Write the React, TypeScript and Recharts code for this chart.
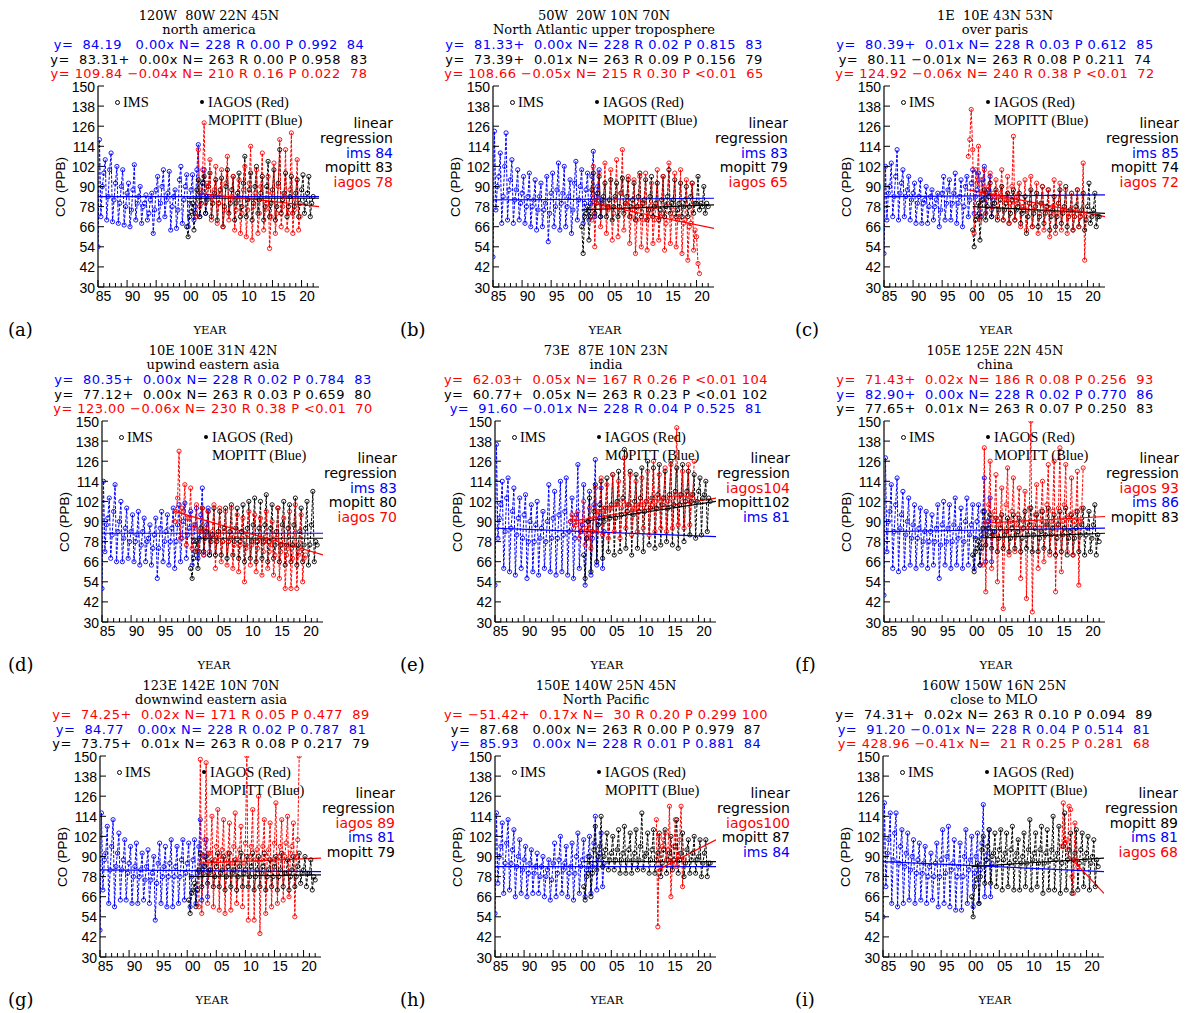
import React from "react";
import { ComposedChart, Line, XAxis, YAxis } from "recharts";

// monthly CO (ppb) sampled quarterly; IMS from 1985.0, MOPITT from 2000.25
const START_IMS = 1985;
const START_MOP = 2000.25;
const FIT_END = 2023;

const coTicks = [30, 42, 54, 66, 78, 90, 102, 114, 126, 138, 150];
const yearTicks = [
  1985, 1986, 1987, 1988, 1989, 1990, 1991, 1992, 1993, 1994, 1995, 1996, 1997,
  1998, 1999, 2000, 2001, 2002, 2003, 2004, 2005, 2006, 2007, 2008, 2009, 2010,
  2011, 2012, 2013, 2014, 2015, 2016, 2017, 2018, 2019, 2020, 2021, 2022,
];
const labelYears = [1985, 1990, 1995, 2000, 2005, 2010, 2015, 2020];
const labelText = ["85", "90", "95", "00", "05", "10", "15", "20"];

// ---- north america
const naIms = [
  54,118,72,90, 98,106,70,84, 100,110,69,82, 92,102,68,80, 90,100,67,78,
  86,92,66,76, 88,103,70,80, 84,90,68,78, 80,85,70,74, 82,86,62,76,
  88,96,70,80, 90,100,72,82, 86,99,64,78, 84,88,65,76, 94,102,68,82,
  90,97,66,80, 88,97,70,78, 100,115,72,86, 92,100,74,84,
];
const naMop = [
  66,60,72,
  75,80,64,74, 88,94,72,80, 92,96,74,82, 90,98,72,80, 86,94,70,80,
  88,95,66,78, 90,100,74,80, 88,96,70,80, 86,98,72,78, 92,108,72,82,
  88,98,70,80, 90,102,74,82, 86,96,70,78, 90,105,72,80, 88,100,70,78,
  92,112,74,82, 86,98,72,78, 84,96,74,78, 86,94,72,80, 88,97,74,80,
  86,96,72,80,
  84,
];
const naIag = [
  72,112,78,88, 100,128,80,92, 90,106,70,84, 88,102,68,80, 86,100,66,76,
  92,108,70,82, 84,96,64,76, 82,94,62,74, 88,102,60,76, 92,114,58,78,
  86,100,62,74, 90,110,64,76, 80,96,53,72, 86,104,62,74, 90,118,66,78,
  84,112,64,74, 88,122,62,76, 82,106,64,72,
];

// ---- north atlantic
const natIms = [
  48,123,76,90, 96,110,68,84, 102,122,70,88, 94,106,68,82, 88,100,70,80,
  86,96,68,78, 84,98,66,78, 82,94,64,76, 84,92,66,76, 80,96,57,74,
  86,98,66,78, 88,104,64,80, 86,102,66,78, 84,94,62,76, 92,105,70,82,
  90,100,68,80, 88,98,70,80, 96,111,72,84, 90,100,72,82,
];
const natMop = [
  66,50,72,
  74,78,58,72, 88,98,74,80, 86,96,72,80, 84,92,72,78, 82,94,70,78,
  84,92,72,78, 86,95,74,80, 84,94,72,78, 82,92,70,78, 84,98,72,80,
  82,94,70,76, 84,96,72,78, 80,92,70,76, 82,96,72,78, 84,100,74,80,
  82,94,72,76, 80,92,72,78, 82,90,72,78, 84,92,74,80, 80,96,76,80,
  78,90,74,80,
  78,
];
const natIag = [
  70,102,54,80, 82,98,66,78, 80,104,62,76, 78,100,58,74, 82,106,60,76,
  86,112,64,78, 80,96,56,72, 76,94,50,70, 78,96,54,70, 80,98,52,72,
  76,92,56,70, 78,100,58,72, 74,96,52,68, 80,104,56,72, 76,98,54,70,
  72,100,50,68, 70,94,46,66, 68,92,52,64,
  60,44,38,
];

// ---- over paris
const parIms = [
  50,102,70,86, 90,104,72,84, 96,112,70,86, 92,100,72,84, 88,96,70,82,
  86,92,68,80, 84,94,68,80, 82,90,68,78, 84,88,70,78, 82,86,66,76,
  86,96,70,80, 88,94,70,80, 86,98,68,80, 84,94,66,78, 90,96,72,82,
  92,100,74,84, 88,98,72,82, 94,102,74,86, 88,96,72,82,
];
const parMop = [
  64,54,70,
  72,80,58,72, 82,88,70,78, 84,92,72,78, 80,88,70,76, 82,90,70,76,
  80,86,68,74, 82,88,70,76, 78,86,68,74, 76,84,62,72, 80,88,66,74,
  78,86,66,72, 80,90,68,74, 78,88,64,72, 76,84,66,72, 80,88,68,74,
  78,90,66,72, 76,86,64,72, 78,88,66,72, 76,86,64,70, 78,92,68,72,
  76,86,66,72,
  72,
];
const parIag = [
  108,118,
  136,112,62,100, 92,114,70,94, 86,100,74,88, 90,98,76,86, 84,94,72,84,
  86,100,70,82, 82,96,68,80, 90,120,70,84, 80,92,66,78, 78,94,64,76,
  80,96,66,76, 78,92,62,74, 80,90,64,76, 76,88,60,74, 78,94,62,74,
  80,92,64,76, 76,88,62,72, 74,86,64,72, 76,88,66,72, 74,104,46,72,
];

// ---- upwind eastern asia
const upwIms = [
  50,114,72,88, 92,104,68,82, 96,112,66,84, 90,102,66,80, 86,98,68,78,
  84,94,66,78, 82,96,64,76, 84,92,66,78, 80,88,64,74, 82,92,56,74,
  86,96,66,78, 84,94,64,78, 86,98,62,78, 88,100,66,80, 90,101,68,82,
  86,96,64,78, 88,98,68,80, 94,110,70,84, 88,98,70,82,
];
const upwMop = [
  62,56,68,
  72,78,62,72, 86,98,72,80, 84,96,70,78, 82,98,70,78, 84,96,70,78,
  86,98,68,78, 84,100,70,78, 86,98,68,78, 84,100,66,76, 86,102,68,78,
  88,104,66,78, 86,102,68,78, 88,106,66,78, 86,100,68,76, 84,98,66,76,
  88,102,64,76, 86,100,66,76, 88,104,64,76, 84,98,66,76, 86,102,64,76,
  88,108,66,78,
  76,
];
const upwIag = [
  90,96,
  104,132,80,98, 96,112,76,92, 92,110,74,88, 86,100,72,84, 84,98,70,82,
  86,96,72,82, 84,100,62,80, 82,98,66,78, 84,96,64,78, 80,98,62,76,
  82,94,60,76, 80,92,54,74, 82,96,64,76, 78,94,60,74, 80,92,58,72,
  78,96,62,72, 76,90,58,70, 80,98,56,72, 76,92,50,70, 74,96,50,68,
  76,100,50,70, 72,94,54,68,
  70,
];

// ---- india
const indIms = [
  52,136,80,92, 100,114,62,84, 104,116,60,86, 96,110,58,82, 92,104,62,80,
  94,106,56,78, 90,100,60,78, 88,102,58,80, 86,96,62,78, 90,112,60,80,
  92,108,58,80, 94,114,60,82, 96,116,58,84, 90,104,56,80, 94,124,62,84,
  88,112,52,80, 90,108,58,80, 100,127,64,88, 92,110,62,84,
];
const indMop = [
  70,56,80,
  90,104,60,84, 96,112,66,88, 100,114,68,90, 98,116,72,92, 100,118,70,92,
  102,120,72,94, 104,133,74,96, 100,120,70,94, 102,118,74,96, 104,122,72,96,
  102,126,76,98, 104,122,74,98, 106,124,76,100, 104,120,78,98, 106,126,76,100,
  108,122,74,100, 106,124,78,102, 108,120,82,102, 106,118,80,102, 108,116,82,104,
  106,114,84,104,
  102,
];
const indIag = [
  90,94,86,92, 88,96,80,90, 84,102,76,86, 80,98,74,84, 92,110,84,96,
  96,116,82,98, 94,112,80,98, 98,118,84,100, 100,114,80,98, 102,128,86,100,
  100,118,82,98, 98,114,84,100, 100,116,86,100, 102,120,82,102, 100,126,84,102,
  104,118,86,104, 102,122,84,102, 104,124,86,104, 106,146,88,106, 104,120,86,104,
  106,124,88,106,
  104,126,
];

// ---- china
const chnIms = [
  46,128,72,90, 96,112,62,84, 100,116,60,86, 94,108,62,82, 90,104,64,80,
  88,100,62,80, 86,98,64,78, 84,96,62,78, 84,94,64,78, 86,100,56,76,
  88,102,64,78, 86,100,62,78, 88,104,64,80, 86,98,62,78, 90,104,64,82,
  88,100,62,80, 90,100,64,82, 96,116,66,86, 90,104,66,84,
];
const chnMop = [
  70,60,72,
  74,78,64,74, 86,96,76,82, 86,94,74,82, 84,92,72,80, 86,94,74,82,
  84,92,72,80, 86,94,74,82, 84,92,72,80, 86,96,74,82, 88,98,72,82,
  86,94,72,80, 84,96,74,82, 88,98,72,82, 86,94,70,80, 88,96,72,82,
  86,98,70,80, 84,94,70,80, 86,96,72,82, 88,98,70,82, 86,96,72,80,
  88,100,70,82,
  78,
];
const chnIag = [
  64,134,48,90, 100,126,62,92, 96,118,54,88, 92,110,38,84, 100,122,70,90,
  96,116,72,88, 94,110,56,86, 90,108,44,86, 98,150,36,88, 94,112,62,86,
  96,114,66,88, 100,124,70,90, 96,126,48,88, 98,134,60,90, 100,124,72,92,
  94,116,70,90, 96,120,52,90,
  98,122,
];

// ---- downwind eastern asia
const dwnIms = [
  46,116,70,88, 92,108,62,82, 96,112,60,84, 92,104,64,82, 88,100,64,80,
  86,96,62,78, 84,98,62,78, 82,92,64,76, 84,94,62,76, 80,90,52,74,
  86,98,62,78, 84,96,60,78, 86,100,60,78, 84,96,62,78, 88,100,64,80,
  86,98,60,78, 88,100,62,80, 96,112,64,84, 90,100,66,82,
];
const dwnMop = [
  64,56,68,
  70,74,60,70, 82,92,72,80, 84,90,74,80, 82,88,72,78, 84,92,72,80,
  82,90,70,78, 84,92,72,80, 82,88,70,78, 84,92,72,80, 82,90,72,78,
  84,92,70,78, 82,90,72,80, 84,92,70,78, 82,88,72,78, 84,90,70,78,
  82,92,72,80, 80,88,70,78, 82,90,72,78, 84,92,74,80, 82,90,72,80,
  80,88,70,78,
  76,
];
const dwnIag = [
  60,148,56,90, 100,146,62,92, 92,114,60,88, 96,118,58,90, 94,112,56,88,
  92,110,58,86, 96,116,62,88, 94,108,60,86, 98,150,52,90, 96,118,52,88,
  94,126,44,88, 96,112,56,90, 94,110,60,88, 98,122,62,90, 96,112,64,90,
  98,114,66,92, 96,110,54,90,
  100,150,
];

// ---- north pacific
const npaIms = [
  56,116,74,90, 96,110,68,86, 98,112,70,86, 94,106,66,84, 90,100,68,82,
  88,96,66,80, 86,94,68,80, 84,92,68,78, 84,90,66,78, 82,88,64,76,
  86,98,66,80, 88,102,68,82, 86,96,66,80, 84,98,64,80, 90,104,68,84,
  88,100,66,82, 90,102,68,84, 98,114,70,88, 92,104,72,86,
];
const npaMop = [
  72,64,78,
  80,90,66,80, 94,108,82,90, 96,114,84,90, 94,104,82,88, 92,102,82,88,
  94,106,80,88, 92,108,80,88, 94,104,80,88, 92,106,82,88, 96,116,82,90,
  92,104,80,88, 94,106,80,88, 92,104,78,86, 94,106,80,88, 92,102,82,88,
  96,112,80,88, 92,104,78,86, 94,100,80,88, 92,102,80,88, 90,100,78,86,
  92,100,78,86,
  86,
];
const npaIag = [
  112,
  48,102,82,96, 100,104,88,94, 120,66,86,96, 112,84,90,100,
  120,72,88,
];

// ---- close to MLO
const mloIms = [
  54,122,72,92, 100,116,62,88, 104,116,60,86, 96,106,62,84, 92,104,64,82,
  90,100,62,80, 88,98,64,80, 86,96,62,78, 84,92,64,78, 86,98,60,78,
  88,106,62,80, 90,108,60,82, 86,100,58,78, 84,98,58,78, 90,106,62,82,
  88,102,60,80, 90,104,62,82, 98,121,66,88, 92,106,66,86,
];
const mloMop = [
  66,54,72,
  76,86,62,78, 94,102,74,88, 96,106,74,90, 92,104,72,88, 94,106,70,88,
  92,104,72,86, 94,108,70,88, 92,100,70,86, 90,104,72,86, 94,112,70,88,
  92,104,72,86, 94,108,68,86, 92,106,70,88, 94,114,70,88, 92,108,68,86,
  96,116,70,88, 94,104,68,88, 92,106,70,86, 94,104,72,88, 92,102,70,86,
  90,100,72,88,
  84,
];
const mloIag = [
  96,
  122,98,100,94, 120,118,78,68,
  110,88,84,
];

// linear fits: [start year, value at start, value at FIT_END]
const naFit = { ims: [1985, 84, 84], mop: [2000.25, 83, 83], iag: [2002, 86, 78] };
const natFit = { ims: [1985, 82, 83], mop: [2000.25, 76, 79], iag: [2002, 80, 65] };
const parFit = { ims: [1985, 84, 85], mop: [2000.25, 78, 74], iag: [1999.5, 88, 72] };
const upwFit = { ims: [1985, 83, 83], mop: [2000.25, 80, 80], iag: [1997.5, 96, 70] };
const indFit = { ims: [1985, 86, 81], mop: [2000.25, 90, 102], iag: [1998, 90, 104] };
const chnFit = { ims: [1985, 84, 86], mop: [2000.25, 80, 83], iag: [2002, 89, 93] };
const dwnFit = { ims: [1985, 82, 81], mop: [2000.25, 78, 79], iag: [2002, 86, 89] };
const npaFit = { ims: [1985, 84, 84], mop: [2000.25, 87, 87], iag: [2013, 82, 100] };
const mloFit = { ims: [1985, 87, 81], mop: [2000.25, 84, 89], iag: [2016.5, 92, 68] };

type Key = "ims" | "mop" | "iag";
const COLOR: Record<Key, string> = { ims: "#0000ff", mop: "#000000", iag: "#ff0000" };
const SHORT: Record<Key, string> = { ims: "ims", mop: "mopitt", iag: "iagos" };

const panels = [
  {
    tag: "(a)", box: "120W  80W 22N 45N", name: "north america",
    ims: naIms, mop: naMop, iag: naIag, iagStart: 2002, fit: naFit,
    order: ["ims", "mop", "iag"] as Key[],
    eq: {
      ims: "y=  84.19   0.00x N= 228 R 0.00 P 0.992",
      mop: "y=  83.31+  0.00x N= 263 R 0.00 P 0.958",
      iag: "y= 109.84 \u22120.04x N= 210 R 0.16 P 0.022",
    },
  },
  {
    tag: "(b)", box: "50W  20W 10N 70N", name: "North Atlantic upper troposphere",
    ims: natIms, mop: natMop, iag: natIag, iagStart: 2002, fit: natFit,
    order: ["ims", "mop", "iag"] as Key[],
    eq: {
      ims: "y=  81.33+  0.00x N= 228 R 0.02 P 0.815",
      mop: "y=  73.39+  0.01x N= 263 R 0.09 P 0.156",
      iag: "y= 108.66 \u22120.05x N= 215 R 0.30 P <0.01",
    },
  },
  {
    tag: "(c)", box: "1E  10E 43N 53N", name: "over paris",
    ims: parIms, mop: parMop, iag: parIag, iagStart: 1999.5, fit: parFit,
    order: ["ims", "mop", "iag"] as Key[],
    eq: {
      ims: "y=  80.39+  0.01x N= 228 R 0.03 P 0.612",
      mop: "y=  80.11 \u22120.01x N= 263 R 0.08 P 0.211",
      iag: "y= 124.92 \u22120.06x N= 240 R 0.38 P <0.01",
    },
  },
  {
    tag: "(d)", box: "10E 100E 31N 42N", name: "upwind eastern asia",
    ims: upwIms, mop: upwMop, iag: upwIag, iagStart: 1997.5, fit: upwFit,
    order: ["ims", "mop", "iag"] as Key[],
    eq: {
      ims: "y=  80.35+  0.00x N= 228 R 0.02 P 0.784",
      mop: "y=  77.12+  0.00x N= 263 R 0.03 P 0.659",
      iag: "y= 123.00 \u22120.06x N= 230 R 0.38 P <0.01",
    },
  },
  {
    tag: "(e)", box: "73E  87E 10N 23N", name: "india",
    ims: indIms, mop: indMop, iag: indIag, iagStart: 1998, fit: indFit,
    order: ["iag", "mop", "ims"] as Key[],
    eq: {
      iag: "y=  62.03+  0.05x N= 167 R 0.26 P <0.01",
      mop: "y=  60.77+  0.05x N= 263 R 0.23 P <0.01",
      ims: "y=  91.60 \u22120.01x N= 228 R 0.04 P 0.525",
    },
  },
  {
    tag: "(f)", box: "105E 125E 22N 45N", name: "china",
    ims: chnIms, mop: chnMop, iag: chnIag, iagStart: 2002, fit: chnFit,
    order: ["iag", "ims", "mop"] as Key[],
    eq: {
      iag: "y=  71.43+  0.02x N= 186 R 0.08 P 0.256",
      ims: "y=  82.90+  0.00x N= 228 R 0.02 P 0.770",
      mop: "y=  77.65+  0.01x N= 263 R 0.07 P 0.250",
    },
  },
  {
    tag: "(g)", box: "123E 142E 10N 70N", name: "downwind eastern asia",
    ims: dwnIms, mop: dwnMop, iag: dwnIag, iagStart: 2002, fit: dwnFit,
    order: ["iag", "ims", "mop"] as Key[],
    eq: {
      iag: "y=  74.25+  0.02x N= 171 R 0.05 P 0.477",
      ims: "y=  84.77   0.00x N= 228 R 0.02 P 0.787",
      mop: "y=  73.75+  0.01x N= 263 R 0.08 P 0.217",
    },
  },
  {
    tag: "(h)", box: "150E 140W 25N 45N", name: "North Pacific",
    ims: npaIms, mop: npaMop, iag: npaIag, iagStart: 2012.75, fit: npaFit,
    order: ["iag", "mop", "ims"] as Key[],
    eq: {
      iag: "y= \u221251.42+  0.17x N=  30 R 0.20 P 0.299",
      mop: "y=  87.68   0.00x N= 263 R 0.00 P 0.979",
      ims: "y=  85.93   0.00x N= 228 R 0.01 P 0.881",
    },
  },
  {
    tag: "(i)", box: "160W 150W 16N 25N", name: "close to MLO",
    ims: mloIms, mop: mloMop, iag: mloIag, iagStart: 2015.75, fit: mloFit,
    order: ["mop", "ims", "iag"] as Key[],
    eq: {
      mop: "y=  74.31+  0.02x N= 263 R 0.10 P 0.094",
      ims: "y=  91.20 \u22120.01x N= 228 R 0.04 P 0.514",
      iag: "y= 428.96 \u22120.41x N=  21 R 0.25 P 0.281",
    },
  },
];

// plot-box placement on the page
const rowTop = [86, 421, 756];
const colLeft = [
  [98, 493, 884],
  [102, 495, 884],
  [100, 495, 883],
];
const tagLeft = [8, 400, 795];
const PW = 221;
const PH = 201;
const PAD_L = 40;
const PAD_T = 10;

const SANS = "'DejaVu Sans', sans-serif";
const TICK_FONT = "'Liberation Sans', Arial, sans-serif";
const SERIF = "'DejaVu Serif', serif";
const LEG_SERIF = "'Liberation Serif', 'Times New Roman', serif";

const toPts = (vals: number[], start: number) =>
  vals.map((y, i) => ({ x: start + i * 0.25, y }));

const axisStyle = { stroke: "#000", strokeWidth: 1.2 };

// year labels sit a little right of their tick, as in the plotting package output
function BottomTick(p: any) {
  const v = p.payload.value;
  const li = labelYears.indexOf(v);
  const len = li >= 0 ? 7 : 4;
  return (
    <g>
      <line x1={p.x} y1={p.y} x2={p.x} y2={p.y - len} stroke="#000" strokeWidth={1} />
      {li >= 0 && (
        <text x={p.x + 5.5} y={p.y + 14} textAnchor="middle" fontSize={14} fontFamily={TICK_FONT} fill="#000">
          {labelText[li]}
        </text>
      )}
    </g>
  );
}

function TopTick(p: any) {
  const len = labelYears.indexOf(p.payload.value) >= 0 ? 7 : 4;
  return <line x1={p.x} y1={p.y} x2={p.x} y2={p.y + len} stroke="#000" strokeWidth={1} />;
}

function LeftTick(p: any) {
  return (
    <g>
      <line x1={p.x} y1={p.y} x2={p.x + 6} y2={p.y} stroke="#000" strokeWidth={1} />
      <text x={p.x - 3} y={p.y + 5.5} textAnchor="end" fontSize={14} fontFamily={TICK_FONT} fill="#000">
        {p.payload.value}
      </text>
    </g>
  );
}

function RightTick(p: any) {
  return <line x1={p.x} y1={p.y} x2={p.x - 6} y2={p.y} stroke="#000" strokeWidth={1} />;
}

function Txt({ x, y, anchor = "middle", color = "#000", font = SANS, size = 14, spacing = 0, children, rotate }: any) {
  const tx = anchor === "middle" ? "-50%" : anchor === "end" ? "-100%" : "0";
  return (
    <div
      style={{
        position: "absolute", left: x, top: y, whiteSpace: "pre", lineHeight: 1,
        color, fontFamily: font, fontSize: size, letterSpacing: spacing,
        transform: `translate(${tx}, -50%)${rotate ? ` rotate(${rotate}deg)` : ""}`,
      }}
    >
      {children}
    </div>
  );
}

function Panel({ cfg, row, col }: { cfg: (typeof panels)[number]; row: number; col: number }) {
  const L = colLeft[row][col];
  const T = rowTop[row];
  const cx = L + 111;
  const series: { key: Key; pts: { x: number; y: number }[] }[] = [
    { key: "ims", pts: toPts(cfg.ims, START_IMS) },
    { key: "mop", pts: toPts(cfg.mop, START_MOP) },
    { key: "iag", pts: toPts(cfg.iag, cfg.iagStart) },
  ];
  const fits = (["ims", "mop", "iag"] as Key[]).map((k) => {
    const f = (cfg.fit as any)[k] as number[];
    return { key: k, pts: [{ x: f[0], y: f[1] }, { x: FIT_END, y: f[2] }] };
  });
  const endOf = (k: Key) => ((cfg.fit as any)[k] as number[])[2];

  return (
    <>
      <Txt x={cx} y={T - 71.5} font={SERIF} size={13}>{cfg.box}</Txt>
      <Txt x={cx} y={T - 57} font={SERIF} size={13}>{cfg.name}</Txt>
      {cfg.order.map((k, i) => (
        <Txt key={k} x={cx} y={T - 42 + i * 14.5} color={COLOR[k]} size={13} spacing={0.45}>
          {`${(cfg.eq as any)[k]} ${String(endOf(k)).padStart(3, " ")}`}
        </Txt>
      ))}

      <div style={{ position: "absolute", left: L - PAD_L, top: T - PAD_T }}>
        <ComposedChart width={PAD_L + PW + 14} height={PAD_T + PH + 20} margin={{ top: PAD_T, right: 14, bottom: 0, left: 0 }}>
          <XAxis xAxisId="b" type="number" dataKey="x" domain={[1985, 2023]} allowDataOverflow
            ticks={yearTicks} interval={0} height={20} tickLine={false} tickSize={0} tickMargin={0}
            axisLine={axisStyle} tick={BottomTick} />
          <XAxis xAxisId="t" orientation="top" type="number" dataKey="x" domain={[1985, 2023]} allowDataOverflow
            ticks={yearTicks} interval={0} height={0} tickLine={false} tickSize={0} tickMargin={0}
            axisLine={axisStyle} tick={TopTick} />
          <YAxis yAxisId="l" type="number" dataKey="y" domain={[30, 150]} allowDataOverflow
            ticks={coTicks} interval={0} width={PAD_L} tickLine={false} tickSize={0} tickMargin={0}
            axisLine={axisStyle} tick={LeftTick} />
          <YAxis yAxisId="r" orientation="right" type="number" dataKey="y" domain={[30, 150]} allowDataOverflow
            ticks={coTicks} interval={0} width={0} tickLine={false} tickSize={0} tickMargin={0}
            axisLine={axisStyle} tick={RightTick} />
          {series.map((s) => (
            <Line key={s.key} xAxisId="b" yAxisId="l" data={s.pts} dataKey="y" type="linear"
              stroke={COLOR[s.key]} strokeWidth={1} strokeDasharray="3 1.5"
              dot={{ r: 2.1, fill: "none", stroke: COLOR[s.key], strokeWidth: 0.9, strokeDasharray: "none" }}
              isAnimationActive={false} />
          ))}
          {fits.map((s) => (
            <Line key={`fit-${s.key}`} xAxisId="b" yAxisId="l" data={s.pts} dataKey="y" type="linear"
              stroke={COLOR[s.key]} strokeWidth={1.2} dot={false} isAnimationActive={false} />
          ))}
        </ComposedChart>
      </div>

      {/* in-plot key */}
      <div style={{ position: "absolute", left: L + 16.5, top: T + 13.5, width: 5, height: 5, border: "1px solid #000", borderRadius: "50%", boxSizing: "border-box" }} />
      <Txt x={L + 25} y={T + 16} anchor="start" font={LEG_SERIF} size={14.5}>IMS</Txt>
      <div style={{ position: "absolute", left: L + 102, top: T + 14, width: 4, height: 4, background: "#000", borderRadius: "50%" }} />
      <Txt x={L + 110} y={T + 16} anchor="start" font={LEG_SERIF} size={14.5}>IAGOS (Red)</Txt>
      <Txt x={L + 110} y={T + 34} anchor="start" font={LEG_SERIF} size={14.5}>MOPITT (Blue)</Txt>

      {/* regression key */}
      <Txt x={L + 295} y={T + 37} anchor="end">linear</Txt>
      <Txt x={L + 295} y={T + 52} anchor="end">regression</Txt>
      {cfg.order.map((k, i) => (
        <Txt key={`lg-${k}`} x={L + 295} y={T + 66.5 + i * 14.7} anchor="end" color={COLOR[k]}>
          {`${SHORT[k]}${String(endOf(k)).padStart(3, " ")}`}
        </Txt>
      ))}

      <Txt x={L - 37} y={T + PH / 2} font={TICK_FONT} size={13.5} rotate={-90}>CO (PPB)</Txt>
      <Txt x={L + 112} y={T + 245} font={SERIF} size={11.5}>YEAR</Txt>
      <Txt x={tagLeft[col]} y={T + 244} anchor="start" font={SERIF} size={18}>{cfg.tag}</Txt>
    </>
  );
}

export default function App() {
  return (
    <div style={{ position: "absolute", left: 0, top: 0, width: 1185, height: 1013, background: "#fff", overflow: "hidden" }}>
      {panels.map((cfg, i) => (
        <Panel key={cfg.tag} cfg={cfg} row={Math.floor(i / 3)} col={i % 3} />
      ))}
    </div>
  );
}
